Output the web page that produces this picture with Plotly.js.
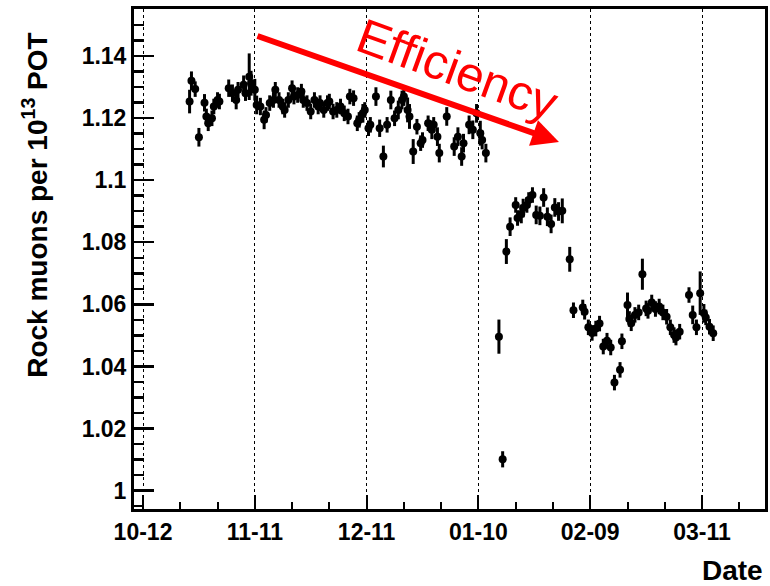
<!DOCTYPE html>
<html>
<head>
<meta charset="utf-8">
<script src="https://cdn.plot.ly/plotly-3.0.1.min.js"></script>
<style>html,body{margin:0;padding:0;background:#fff;}#plot{width:770px;height:586px;}</style>
</head>
<body>
<div id="plot"></div>
<script>
// ---- data ----
const dates = [
"2010-10-24 12:00","2010-10-25","2010-10-26","2010-10-27","2010-10-28 12:00","2010-10-29","2010-10-29 12:00","2010-10-30 12:00","2010-10-31","2010-11-01",
"2010-11-01 12:00","2010-11-04","2010-11-05","2010-11-06","2010-11-06 12:00","2010-11-08","2010-11-08 12:00","2010-11-09 12:00","2010-11-10","2010-11-11",
"2010-11-11 12:00","2010-11-12 12:00","2010-11-13 12:00","2010-11-14","2010-11-15","2010-11-16","2010-11-16 12:00","2010-11-17 12:00","2010-11-18 12:00","2010-11-19",
"2010-11-20","2010-11-21","2010-11-21 12:00","2010-11-22 12:00","2010-11-23 12:00","2010-11-24","2010-11-25","2010-11-26","2010-11-27","2010-11-28",
"2010-11-28 12:00","2010-11-29 12:00","2010-11-30 12:00","2010-12-01","2010-12-02","2010-12-03","2010-12-04","2010-12-05","2010-12-06","2010-12-06 12:00",
"2010-12-07 12:00","2010-12-08 12:00","2010-12-09","2010-12-10","2010-12-10 12:00","2010-12-11 12:00","2010-12-12","2010-12-13 12:00","2010-12-14 12:00","2010-12-15 12:00",
"2010-12-16 12:00","2010-12-17 12:00","2010-12-18 12:00","2010-12-19 12:00","2010-12-20 12:00","2010-12-21","2010-12-22","2010-12-22 12:00","2010-12-23 12:00","2010-12-24 12:00",
"2010-12-25 12:00","2010-12-26","2010-12-27 12:00","2010-12-28 12:00","2010-12-29","2010-12-30","2010-12-30 12:00","2011-01-01 12:00","2011-01-03 12:00","2011-01-04 12:00",
"2011-01-05 12:00","2011-01-06","2011-01-07 12:00","2011-01-08 12:00","2011-01-09 12:00","2011-01-10 12:00","2011-01-11","2011-01-12","2011-01-15 12:00","2011-01-16 12:00",
"2011-01-17 12:00","2011-01-18 12:00","2011-01-20","2011-01-20 12:00","2011-01-21 12:00","2011-01-22","2011-01-23","2011-01-23 12:00","2011-01-24 12:00","2011-01-25 12:00",
"2011-01-26 12:00","2011-01-27 12:00","2011-01-28 12:00","2011-01-29 12:00","2011-01-30 12:00","2011-01-31 12:00","2011-02-01 12:00","2011-02-03 12:00","2011-02-04 12:00","2011-02-07",
"2011-02-07 12:00","2011-02-08 12:00","2011-02-09 12:00","2011-02-10 12:00","2011-02-11 12:00","2011-02-12 12:00","2011-02-13 12:00","2011-02-14 12:00","2011-02-15 12:00","2011-02-17",
"2011-02-17 12:00","2011-02-19","2011-02-19 12:00","2011-02-20","2011-02-21","2011-02-22","2011-02-23","2011-02-24","2011-02-24 12:00","2011-02-25 12:00",
"2011-02-26 12:00","2011-02-27 12:00","2011-02-28 12:00","2011-03-01 12:00","2011-03-02 12:00","2011-03-03 12:00","2011-03-04","2011-03-05","2011-03-07 12:00","2011-03-08 12:00",
"2011-03-09 12:00","2011-03-10 12:00","2011-03-11 12:00","2011-03-12","2011-03-13","2011-03-14"
];
const muonsPerPOT = [
1.1253,1.1320,1.1293,1.1138,1.1249,1.1205,1.1183,1.1199,1.1237,1.1258,
1.1253,1.1296,1.1280,1.1258,1.1291,1.1307,1.1280,1.1333,1.1312,1.1291,
1.1242,1.1237,1.1194,1.1210,1.1248,1.1258,1.1291,1.1258,1.1237,1.1226,
1.1258,1.1296,1.1269,1.1274,1.1285,1.1258,1.1248,1.1221,1.1258,1.1237,
1.1248,1.1226,1.1248,1.1253,1.1221,1.1226,1.1237,1.1215,1.1205,1.1269,
1.1264,1.1183,1.1194,1.1215,1.1226,1.1167,1.1178,1.1269,1.1167,1.1076,
1.1178,1.1258,1.1199,1.1226,1.1258,1.1269,1.1226,1.1205,1.1092,1.1172,
1.1119,1.1129,1.1183,1.1162,1.1178,1.1140,1.1087,1.1205,1.1108,1.1140,
1.1076,1.1119,1.1178,1.1162,1.1215,1.1151,1.1129,1.1087,1.0496,1.0101,
1.0770,1.0850,1.0920,1.0878,1.0891,1.0910,1.0920,1.0936,1.0952,1.0888,
1.0885,1.0944,1.0882,1.0859,1.0912,1.0899,1.0901,1.0745,1.0581,1.0590,
1.0576,1.0526,1.0508,1.0522,1.0538,1.0464,1.0483,1.0461,1.0348,1.0389,
1.0481,1.0598,1.0553,1.0539,1.0566,1.0574,1.0697,1.0587,1.0579,1.0606,
1.0585,1.0593,1.0574,1.0560,1.0526,1.0501,1.0493,1.0512,1.0630,1.0566,
1.0526,1.0636,1.0571,1.0558,1.0528,1.0507
];
const errors = [
0.0038,0.0030,0.0025,0.0030,0.0028,0.0025,0.0025,0.0025,0.0025,0.0025,
0.0025,0.0028,0.0028,0.0030,0.0025,0.0030,0.0025,0.0075,0.0040,0.0035,
0.0030,0.0028,0.0030,0.0025,0.0025,0.0025,0.0025,0.0025,0.0025,0.0025,
0.0025,0.0025,0.0025,0.0025,0.0025,0.0025,0.0025,0.0025,0.0025,0.0025,
0.0025,0.0025,0.0025,0.0025,0.0025,0.0025,0.0025,0.0025,0.0025,0.0025,
0.0025,0.0025,0.0025,0.0030,0.0025,0.0025,0.0025,0.0030,0.0028,0.0035,
0.0025,0.0030,0.0025,0.0030,0.0030,0.0030,0.0040,0.0040,0.0040,0.0025,
0.0025,0.0025,0.0025,0.0030,0.0025,0.0030,0.0030,0.0030,0.0030,0.0030,
0.0030,0.0030,0.0030,0.0030,0.0030,0.0040,0.0030,0.0030,0.0055,0.0026,
0.0040,0.0030,0.0025,0.0025,0.0030,0.0030,0.0025,0.0025,0.0025,0.0030,
0.0030,0.0030,0.0030,0.0030,0.0030,0.0030,0.0040,0.0040,0.0025,0.0025,
0.0025,0.0025,0.0025,0.0025,0.0025,0.0025,0.0025,0.0025,0.0025,0.0025,
0.0025,0.0040,0.0025,0.0025,0.0025,0.0025,0.0050,0.0025,0.0025,0.0025,
0.0025,0.0025,0.0025,0.0025,0.0025,0.0025,0.0025,0.0025,0.0025,0.0030,
0.0025,0.0070,0.0030,0.0025,0.0025,0.0025
];
const xTickVals = ["2010-10-12","2010-11-11","2010-12-11","2011-01-10","2011-02-09","2011-03-11"];
const xTickText = ["10-12","11-11","12-11","01-10","02-09","03-11"];
const yTickVals = [1, 1.02, 1.04, 1.06, 1.08, 1.1, 1.12, 1.14];
const yTickText = ["1","1.02","1.04","1.06","1.08","1.1","1.12","1.14"];
const yTitle = "Rock muons per 10<sup>13</sup> POT";
const xTitle = "Date";
const arrowLabel = "Efficiency";

// ---- chart ----
const FONT = "Liberation Sans, Arial, Helvetica, sans-serif";
const trace = {
  x: dates, y: muonsPerPOT, type: "scatter", mode: "markers",
  marker: {color: "#000", size: 8},
  error_y: {type: "data", array: errors, visible: true, color: "#000", thickness: 3, width: 0},
  hoverinfo: "x+y"
};
const layout = {
  width: 770, height: 586,
  margin: {l: 134, r: 5, t: 9, b: 77},
  paper_bgcolor: "#fff", plot_bgcolor: "#fff",
  showlegend: false,
  font: {family: FONT, color: "#000"},
  xaxis: {
    type: "date",
    range: ["2010-10-09 14:00", "2011-03-27 21:30"],
    tickmode: "array", tickvals: xTickVals, ticktext: xTickText,
    ticks: "inside", ticklen: 14, tickwidth: 2, tickcolor: "#000",
    minor: {tickmode: "linear", tick0: "2010-10-12", dtick: 10*86400000, ticks: "inside", ticklen: 7, tickwidth: 2, tickcolor: "#000", showgrid: false},
    showline: true, linecolor: "#000", linewidth: 3, mirror: true,
    showgrid: true, gridcolor: "#000", gridwidth: 1, griddash: "dot",
    zeroline: false,
    tickfont: {family: FONT, size: 23, weight: 700, color: "#000"}
  },
  yaxis: {
    range: [0.9941, 1.1551],
    tickmode: "array", tickvals: yTickVals, ticktext: yTickText,
    ticks: "inside", ticklen: 20, tickwidth: 2.5, tickcolor: "#000",
    minor: {tickmode: "linear", tick0: 1, dtick: 0.005, ticks: "inside", ticklen: 10, tickwidth: 2.5, tickcolor: "#000", showgrid: false},
    showline: true, linecolor: "#000", linewidth: 3, mirror: true,
    showgrid: false, zeroline: false,
    tickfont: {family: FONT, size: 23, weight: 700, color: "#000"}
  },
  annotations: [
    {xref: "paper", yref: "paper", x: -0.158, y: 0.607, xanchor: "center", yanchor: "middle",
     text: yTitle, textangle: -90, showarrow: false,
     font: {family: FONT, size: 28, weight: 700, color: "#000"}},
    {xref: "paper", yref: "paper", x: 1, y: -0.122, xanchor: "right", yanchor: "middle",
     text: xTitle, showarrow: false,
     font: {family: FONT, size: 28, weight: 700, color: "#000"}},
    {xref: "x domain", yref: "y domain", x: 0.6735, y: 0.734,
     axref: "x domain", ayref: "y domain", ax: 0.1933, ay: 0.947,
     text: "", showarrow: true, arrowhead: 2, arrowsize: 0.9, arrowwidth: 6, arrowcolor: "#ff0000"},
    {xref: "paper", yref: "paper", x: 0.512, y: 0.88, xanchor: "center", yanchor: "middle",
     text: arrowLabel, textangle: 20, showarrow: false,
     font: {family: FONT, size: 49, color: "#ff0000"}}
  ]
};
Plotly.newPlot("plot", [trace], layout, {displayModeBar: false, staticPlot: true});
</script>
</body>
</html>
